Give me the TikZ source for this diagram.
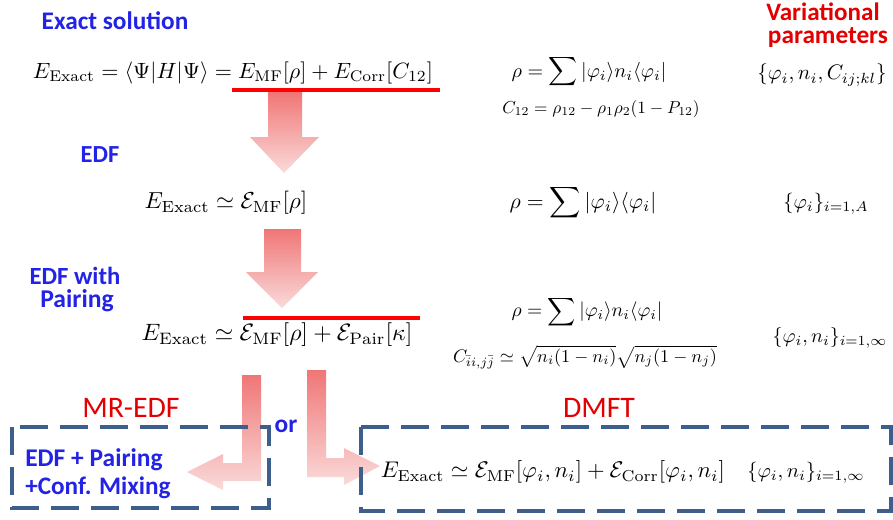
\documentclass[tikz,border=0pt]{standalone}
\usepackage{fontspec}
\usepackage{amsmath,graphicx}
\newfontfamily\carl{Carlito}
\definecolor{tblue}{RGB}{35,35,230}
\definecolor{tred}{RGB}{228,0,0}
\definecolor{dashblue}{RGB}{62,94,140}
\definecolor{arrtop}{RGB}{240,118,118}
\definecolor{arrbot}{RGB}{250,218,218}
\tikzset{
  lbl/.style={anchor=base,inner sep=0pt,text=tblue},
  rlbl/.style={anchor=base,inner sep=0pt,text=tred},
  eqn/.style={anchor=center,inner sep=0pt},
  redline/.style={draw=red,line width=2.4pt},
  dashbox/.style={draw=dashblue,line width=2.3pt,dash pattern=on 21pt off 9pt},
  blockarrow/.style={top color=arrtop,bottom color=arrbot,draw=none}
}
\begin{document}
\begin{tikzpicture}[x=0.75pt,y=-0.75pt]
\useasboundingbox (0,0) rectangle (893,519);
% ---- labels
\node[lbl] (exact) at (115,29) {\resizebox{110pt}{!}{\carl\bfseries Exact solution}};
\node[rlbl] (var1) at (823,20) {\resizebox{85pt}{!}{\carl\bfseries Variational}};
\node[rlbl] (var2) at (828,43) {\resizebox{90pt}{!}{\carl\bfseries parameters}};
\node[lbl] (edf) at (100,162) {\resizebox{29pt}{!}{\carl\bfseries EDF}};
\node[lbl] (edfw) at (75,284) {\resizebox{68pt}{!}{\carl\bfseries EDF with}};
\node[lbl] (pair) at (77,307) {\resizebox{55pt}{!}{\carl\bfseries Pairing}};
\node[rlbl] (mredf) at (131,417) {\resizebox{73pt}{!}{\carl MR-EDF}};
\node[lbl] (or) at (286,432) {\resizebox{17pt}{!}{\carl\bfseries or}};
\node[rlbl] (dmft) at (599,417) {\resizebox{54pt}{!}{\carl DMFT}};
% ---- arrows
\shade[blockarrow] (268,92) -- (302,92) -- (302,137) -- (319,137) -- (284,173) -- (250,137) -- (268,137) -- cycle;
\shade[blockarrow] (264,229) -- (301,229) -- (301,272) -- (318,272) -- (282,308) -- (246,272) -- (264,272) -- cycle;
\shade[blockarrow] (242,375) -- (261,375) -- (261,481) -- (223,481) -- (223,490) -- (187,472) -- (223,454) -- (223,463) -- (242,463) -- cycle;
\shade[blockarrow] (307,370) -- (326,370) -- (326,458) -- (344,458) -- (344,448) -- (380,466) -- (344,485) -- (344,477) -- (307,477) -- cycle;
% ---- boxes
\draw[dashbox] (12,427) rectangle (269,508);
\draw[dashbox] (361,427) rectangle (891,511);
% ---- equations
\node[eqn] (eq1) at (233,73) {\resizebox{300pt}{!}{$E_{\rm Exact}=\langle\Psi|H|\Psi\rangle=E_{\rm MF}[\rho]+E_{\rm Corr}[C_{12}]$}};
\node[eqn] (rho1) at (589,72) {\resizebox{116pt}{!}{$\displaystyle\rho=\sum|\varphi_i\rangle n_i\langle\varphi_i|$}};
\node[eqn] (c1) at (601,109) {\resizebox{148pt}{!}{$C_{12}=\rho_{12}-\rho_1\rho_2(1-P_{12})$}};
\node[eqn] (par1) at (822,75) {\resizebox{97pt}{!}{$\{\varphi_i,n_i,C_{ij;kl}\}$}};
\node[eqn] (eq2) at (226,203) {\resizebox{122pt}{!}{$E_{\rm Exact}\simeq\mathcal{E}_{\rm MF}[\rho]$}};
\node[eqn] (rho2) at (583,203) {\resizebox{110pt}{!}{$\displaystyle\rho=\sum|\varphi_i\rangle\langle\varphi_i|$}};
\node[eqn] (par2) at (826,204) {\resizebox{64pt}{!}{$\{\varphi_i\}_{i=1,A}$}};
\node[eqn] (eq3) at (277,335) {\resizebox{203pt}{!}{$E_{\rm Exact}\simeq\mathcal{E}_{\rm MF}[\rho]+\mathcal{E}_{\rm Pair}[\kappa]$}};
\node[eqn] (rho3) at (587,312) {\resizebox{113pt}{!}{$\displaystyle\rho=\sum|\varphi_i\rangle n_i\langle\varphi_i|$}};
\node[eqn] (c3) at (585,357) {\resizebox{198pt}{!}{$C_{\bar{i}i,j\bar{j}}\simeq\sqrt{n_i(1-n_i)}\sqrt{n_j(1-n_j)}$}};
\node[eqn] (par3) at (830,338) {\resizebox{86pt}{!}{$\{\varphi_i,n_i\}_{i=1,\infty}$}};
\node[eqn] (eq4) at (553,472) {\resizebox{258pt}{!}{$E_{\rm Exact}\simeq\mathcal{E}_{\rm MF}[\varphi_i,n_i]+\mathcal{E}_{\rm Corr}[\varphi_i,n_i]$}};
\node[eqn] (par4) at (806,473) {\resizebox{88pt}{!}{$\{\varphi_i,n_i\}_{i=1,\infty}$}};
% ---- box texts
\node[lbl,anchor=base west] (bx1) at (25,466) {\resizebox{103pt}{!}{\carl\bfseries EDF + Pairing}};
\node[lbl,anchor=base west] (bx2) at (25,494) {\resizebox{109pt}{!}{\carl\bfseries +Conf. Mixing}};
% ---- red lines
\draw[redline] (232,90) -- (440,90);
\draw[redline] (243,318) -- (420,318);
\end{tikzpicture}
\end{document}
